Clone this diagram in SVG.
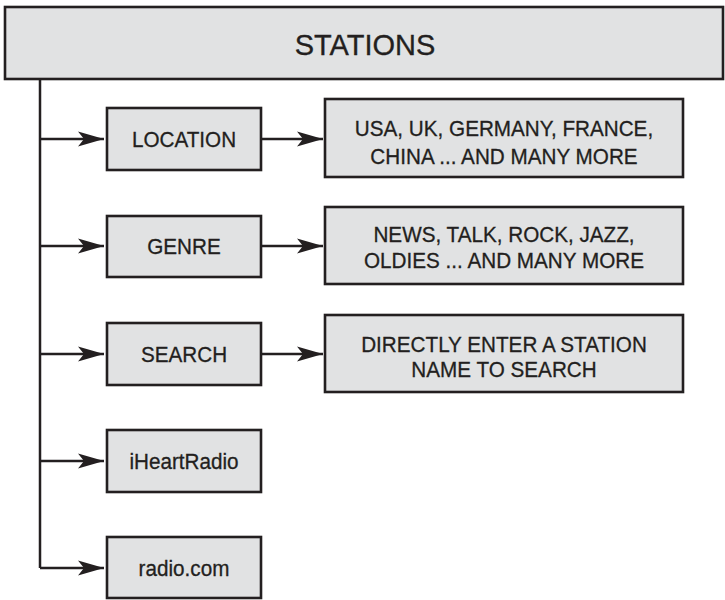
<svg xmlns="http://www.w3.org/2000/svg" width="725" height="600" viewBox="0 0 725 600">
  <style>
    .box { fill: #e1e2e3; stroke: #231f20; stroke-width: 2.6; }
    .lbl { font-family: "Liberation Sans", Arial, sans-serif; font-size: 22px; fill: #231f20; stroke: #231f20; stroke-width: 0.3; text-anchor: middle; }
    .title { font-family: "Liberation Sans", Arial, sans-serif; font-size: 29px; fill: #231f20; stroke: #231f20; stroke-width: 0.3; text-anchor: middle; }
    .conn { fill: none; stroke: #231f20; stroke-width: 2.5; }
  </style>
  <defs>
    <marker id="arr" markerUnits="userSpaceOnUse" markerWidth="28" markerHeight="18" viewBox="-27 -9 28 18" refX="0" refY="0" orient="auto">
      <path d="M0,0 L-26,-7.5 L-20,0 L-26,7.5 Z" fill="#231f20"/>
    </marker>
  </defs>
  <rect width="725" height="600" fill="#ffffff"/>

  <g id="connectors">
    <path class="conn" d="M40,79 V568"/>
    <path class="conn" d="M40,139 H104" marker-end="url(#arr)"/>
    <path class="conn" d="M40,246 H104" marker-end="url(#arr)"/>
    <path class="conn" d="M40,354 H104" marker-end="url(#arr)"/>
    <path class="conn" d="M40,461 H104" marker-end="url(#arr)"/>
    <path class="conn" d="M40,568 H104" marker-end="url(#arr)"/>
    <path class="conn" d="M262,139 H323" marker-end="url(#arr)"/>
    <path class="conn" d="M262,246 H323" marker-end="url(#arr)"/>
    <path class="conn" d="M262,354 H323" marker-end="url(#arr)"/>
  </g>

  <g id="stations">
    <rect class="box" x="5" y="7" width="718" height="72"/>
    <text class="title" x="365" y="55">STATIONS</text>
  </g>

  <g id="location">
    <rect class="box" x="107" y="108" width="154" height="62"/>
    <text class="lbl" transform="matrix(0.94 0 0 1 184 147)">LOCATION</text>
  </g>
  <g id="location-detail">
    <rect class="box" x="325" y="99" width="358" height="78"/>
    <text class="lbl" transform="matrix(0.94 0 0 1 504 136)">USA, UK, GERMANY, FRANCE,</text>
    <text class="lbl" transform="matrix(0.94 0 0 1 504 164)">CHINA ... AND MANY MORE</text>
  </g>

  <g id="genre">
    <rect class="box" x="107" y="216" width="154" height="61"/>
    <text class="lbl" transform="matrix(0.94 0 0 1 184 254)">GENRE</text>
  </g>
  <g id="genre-detail">
    <rect class="box" x="325" y="207" width="358" height="77"/>
    <text class="lbl" transform="matrix(0.94 0 0 1 504 242)">NEWS, TALK, ROCK, JAZZ,</text>
    <text class="lbl" transform="matrix(0.94 0 0 1 504 268)">OLDIES ... AND MANY MORE</text>
  </g>

  <g id="search">
    <rect class="box" x="107" y="323" width="154" height="62"/>
    <text class="lbl" transform="matrix(0.94 0 0 1 184 362)">SEARCH</text>
  </g>
  <g id="search-detail">
    <rect class="box" x="325" y="315" width="358" height="77"/>
    <text class="lbl" transform="matrix(0.94 0 0 1 504 352)">DIRECTLY ENTER A STATION</text>
    <text class="lbl" transform="matrix(0.94 0 0 1 504 377)">NAME TO SEARCH</text>
  </g>

  <g id="iheartradio">
    <rect class="box" x="107" y="430" width="154" height="62"/>
    <text class="lbl" transform="matrix(0.94 0 0 1 184 469)">iHeartRadio</text>
  </g>

  <g id="radio-com">
    <rect class="box" x="107" y="537" width="154" height="61"/>
    <text class="lbl" transform="matrix(0.94 0 0 1 184 576)">radio.com</text>
  </g>
</svg>
